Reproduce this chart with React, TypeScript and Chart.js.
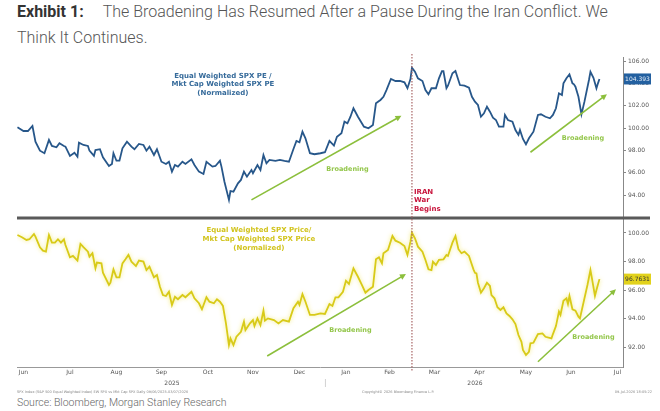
import { useEffect, useRef } from "react"
import { Chart, registerables } from "chart.js"

Chart.register(...registerables)

// x values are days counted from 1 Jun 2025
const peDays = [9, 13, 16, 19, 21, 24, 27, 30, 32, 35, 37, 40, 41, 44, 47, 49, 50, 53, 56, 57, 60, 61, 64, 66, 70, 72, 73, 75, 77, 79, 82, 85, 87, 90, 93, 95, 97, 100, 102, 105, 108, 110, 112, 114, 116, 119, 121, 125, 127, 130, 133, 135, 139, 141, 144, 145, 147, 150, 151, 153, 156, 158, 160, 162, 165, 166, 169, 171, 173, 175, 177, 181, 184, 187, 190, 193, 195, 197, 199, 201, 204, 207, 211, 214, 217, 220, 222, 225, 227, 229, 231, 233, 236, 240, 243, 246, 248, 251, 253, 255, 258, 261, 264, 267, 269, 271, 272, 274, 276, 279, 281, 283, 285, 288, 290, 292, 293, 295, 296, 299, 301, 304, 307, 310, 312, 314, 316, 318, 320, 322, 324, 326, 328, 330, 333, 334, 336, 339, 341, 343, 344, 346, 348, 350, 353, 356, 358, 361, 364, 366, 368, 370, 372, 373, 375, 377, 379, 380, 381, 383, 385, 387, 390, 391, 393, 395, 396, 397]
const peValues = [100.06, 99.73, 99.73, 100.18, 98.78, 97.97, 97.74, 98.93, 98.39, 98.27, 98.63, 98.39, 98.33, 97.5, 97.79, 97.43, 98.69, 98.48, 98.39, 97.97, 97.5, 98.03, 98.1, 97.38, 96.6, 96.78, 97.74, 97.07, 97.07, 98.18, 98.78, 98.33, 98.1, 98.57, 98.48, 97.97, 98.33, 97.58, 98.1, 96.98, 96.78, 96.98, 96.09, 96.69, 96.54, 96.98, 96.78, 97.2, 96.69, 96.09, 95.88, 96.98, 96.54, 96.6, 97.07, 96.54, 95.19, 93.56, 94.36, 94.3, 95.05, 95.35, 96.09, 95.64, 96.24, 95.95, 96.69, 96.24, 97.58, 96.84, 97.14, 97.05, 97.14, 97.05, 96.98, 98.12, 98.84, 98.72, 99.67, 99.08, 97.74, 97.65, 97.74, 97.83, 98.84, 98.42, 99.22, 99.53, 100.57, 100.42, 101.01, 101.77, 101.01, 100.12, 99.97, 100.27, 102.21, 102.51, 102.8, 103.4, 104.39, 104.21, 104.21, 104.09, 103.56, 104.39, 105.4, 105.04, 104.45, 104.21, 103.4, 103.02, 103.56, 103.56, 104.45, 105.1, 105.1, 103.56, 103.79, 104.9, 105.1, 103.85, 103.79, 103.61, 102.8, 102.36, 102.06, 101.01, 101.32, 101.91, 101.46, 100.92, 100.72, 100.12, 100.12, 101.17, 100.72, 100.57, 99.82, 99.38, 99.82, 99.02, 98.54, 99.08, 99.67, 101.17, 101.23, 101.01, 100.87, 101.17, 101.77, 103.11, 102.96, 104.0, 104.45, 104.81, 104.0, 103.91, 103.7, 102.8, 101.23, 102.36, 104.3, 105.04, 104.5, 103.56, 104.0, 104.393]

const priceDays = [9, 12, 15, 17, 20, 21, 24, 26, 28, 30, 32, 34, 36, 38, 40, 41, 44, 46, 49, 51, 53, 56, 57, 59, 61, 62, 65, 66, 70, 71, 73, 75, 77, 79, 81, 83, 85, 88, 90, 93, 95, 97, 100, 102, 104, 106, 108, 110, 112, 114, 116, 119, 121, 125, 127, 130, 132, 135, 137, 140, 142, 144, 146, 148, 150, 151, 153, 155, 158, 160, 161, 164, 166, 167, 169, 171, 173, 174, 176, 180, 183, 186, 190, 193, 196, 197, 199, 201, 204, 207, 211, 214, 217, 219, 221, 223, 226, 228, 230, 233, 236, 239, 241, 243, 246, 248, 250, 252, 253, 256, 259, 261, 264, 267, 269, 271, 272, 274, 276, 279, 281, 283, 285, 286, 288, 290, 293, 295, 296, 299, 301, 303, 305, 307, 310, 313, 314, 315, 316, 318, 320, 322, 324, 325, 327, 329, 331, 333, 335, 337, 339, 341, 343, 345, 346, 348, 350, 351, 353, 356, 359, 361, 365, 366, 368, 370, 371, 373, 375, 376, 377, 379, 381, 383, 384, 386, 389, 391, 392, 394, 395, 397]
const priceValues = [99.86, 99.7, 99.51, 99.56, 99.93, 99.74, 99.0, 98.76, 98.69, 99.86, 99.32, 99.32, 99.56, 99.32, 99.56, 99.16, 98.29, 98.39, 98.06, 99.23, 99.0, 98.69, 98.34, 98.58, 97.52, 97.92, 97.87, 97.21, 96.35, 96.51, 97.45, 96.89, 96.89, 97.87, 98.15, 98.46, 97.99, 97.68, 98.06, 97.99, 97.4, 97.64, 96.89, 97.05, 96.23, 95.65, 95.58, 95.88, 94.95, 95.53, 95.35, 95.65, 95.49, 95.88, 95.42, 95.07, 94.65, 95.49, 95.18, 95.07, 95.35, 95.18, 94.88, 93.66, 92.14, 92.61, 92.14, 92.72, 93.07, 93.78, 93.19, 93.66, 93.89, 93.47, 94.01, 93.54, 94.55, 93.85, 94.01, 93.89, 93.66, 93.89, 93.78, 94.72, 95.18, 94.95, 95.72, 95.18, 94.25, 94.25, 94.36, 94.32, 95.02, 94.88, 95.49, 95.49, 95.88, 96.65, 96.42, 97.52, 96.93, 96.28, 95.81, 96.0, 96.23, 98.15, 98.29, 97.87, 98.58, 98.81, 99.79, 99.46, 99.32, 99.09, 98.46, 99.39, 100.02, 99.63, 99.04, 98.69, 98.11, 97.45, 97.4, 97.99, 97.75, 98.11, 98.15, 98.46, 98.39, 99.32, 99.79, 98.86, 98.58, 98.69, 98.39, 97.45, 97.21, 97.17, 96.51, 95.81, 96.12, 96.51, 96.28, 95.65, 95.42, 94.79, 94.6, 94.79, 94.36, 94.18, 93.94, 93.61, 92.84, 92.37, 91.79, 91.44, 91.67, 92.26, 92.3, 92.91, 92.96, 92.72, 92.61, 92.91, 93.47, 94.48, 94.25, 95.25, 95.42, 95.02, 95.58, 94.65, 94.55, 94.13, 94.01, 94.95, 96.35, 97.4, 96.82, 95.58, 96.0, 96.7631]

const monthLabels = ["Jun", "Jul", "Aug", "Sep", "Oct", "Nov", "Dec", "Jan", "Feb", "Mar", "Apr", "May", "Jun", "Jul"]
const monthTickDays = [13, 44, 75, 105, 136, 166, 197, 228, 257, 287, 317, 348, 378, 409]
const yearLabels = ["2025", "2026"]
const yearLabelDays = [112, 314]
const yearBreakDay = 214
const peTicks = [94, 96, 98, 100, 102, 104, 106]
const priceTicks = [92, 94, 96, 98, 100]
const iranDay = 272

const peLabel = ["Equal Weighted SPX PE /", "Mkt Cap Weighted SPX PE", "(Normalized)"]
const priceLabel = ["Equal Weighted SPX Price/", "Mkt Cap Weighted SPX Price", "(Normalized)"]
const iranLabel = ["IRAN", "War", "Begins"]

// trend arrows: [day, value] start and end, per panel
const arrows = [
  { axis: "yTop", from: [165, 93.56], to: [265, 101.1], text: [229, 96.33] },
  { axis: "yTop", from: [351, 97.83], to: [402, 103.02], text: [386, 99.11] },
  { axis: "yBottom", from: [175.5, 91.37], to: [268, 97.12], text: [231, 93.19] },
  { axis: "yBottom", from: [356, 90.97], to: [408, 96.05], text: [393, 92.7] },
]

const BLUE = "#27578a"
const YELLOW = "#d8ca18"
const GREEN = "#8cbf3c"
const FONT = "'DejaVu Sans', Verdana, sans-serif"

const decorPlugin = {
  id: "decor",
  beforeDatasetDraw(chart: any, args: any) {
    if (args.index === 1) {
      const c = chart.ctx
      c.save()
      c.shadowColor = "rgba(240, 230, 90, 0.8)"
      c.shadowBlur = 4
    }
  },
  afterDatasetDraw(chart: any, args: any) {
    if (args.index === 1) chart.ctx.restore()
  },
  afterDraw(chart: any) {
    const { ctx, chartArea: area, scales } = chart
    const x = scales.x
    const yt = scales.yTop
    const yb = scales.yBottom

    const text = (s: string, px: number, py: number, color: string, font: string, align: CanvasTextAlign = "center") => {
      ctx.fillStyle = color
      ctx.font = font
      ctx.textAlign = align
      ctx.textBaseline = "middle"
      ctx.fillText(s, px, py)
    }

    ctx.save()

    // panel divider
    ctx.fillStyle = "#5a5a5a"
    ctx.fillRect(area.left, yt.bottom - 1.5, 650 - area.left, 3)

    // Iran war line
    const ix = x.getPixelForValue(iranDay)
    ctx.strokeStyle = "#a86565"
    ctx.lineWidth = 1.2
    ctx.setLineDash([1.5, 1.5])
    ctx.beginPath()
    ctx.moveTo(ix, area.top - 3)
    ctx.lineTo(ix, area.bottom + 4)
    ctx.stroke()
    ctx.setLineDash([])
    iranLabel.forEach((s, i) => text(s, ix + 2, yt.getPixelForValue(94.27) + i * 8.5, "#c8143c", `bold 7px ${FONT}`, "left"))

    // series labels
    peLabel.forEach((s, i) =>
      text(s, x.getPixelForValue(146), yt.getPixelForValue(104.66) + i * 8.5, "#356a9a", `bold 7px ${FONT}`)
    )
    priceLabel.forEach((s, i) =>
      text(s, x.getPixelForValue(170), yb.getPixelForValue(100.21) + i * 9, "#d2c41e", `bold 7px ${FONT}`)
    )

    // broadening arrows
    arrows.forEach((a) => {
      const ys = scales[a.axis]
      const x1 = x.getPixelForValue(a.from[0])
      const y1 = ys.getPixelForValue(a.from[1])
      const x2 = x.getPixelForValue(a.to[0])
      const y2 = ys.getPixelForValue(a.to[1])
      const ang = Math.atan2(y2 - y1, x2 - x1)
      ctx.strokeStyle = GREEN
      ctx.fillStyle = GREEN
      ctx.lineWidth = 1.6
      ctx.beginPath()
      ctx.moveTo(x1, y1)
      ctx.lineTo(x2 - 4 * Math.cos(ang), y2 - 4 * Math.sin(ang))
      ctx.stroke()
      ctx.beginPath()
      ctx.moveTo(x2, y2)
      ctx.lineTo(x2 - 6 * Math.cos(ang) + 3 * Math.sin(ang), y2 - 6 * Math.sin(ang) - 3 * Math.cos(ang))
      ctx.lineTo(x2 - 6 * Math.cos(ang) - 3 * Math.sin(ang), y2 - 6 * Math.sin(ang) + 3 * Math.cos(ang))
      ctx.closePath()
      ctx.fill()
      text("Broadening", x.getPixelForValue(a.text[0]), ys.getPixelForValue(a.text[1]), "#93c64a", `bold 6.5px ${FONT}`)
    })

    // last value boxes
    const box = (v: number, ys: any, bg: string, fg: string, label: string) => {
      const py = ys.getPixelForValue(v)
      ctx.fillStyle = bg
      ctx.fillRect(area.right + 1, py - 5.5, 27, 11)
      text(label, area.right + 14.5, py + 0.5, fg, `6px ${FONT}`)
    }
    box(peValues[peValues.length - 1], yt, "#2360a0", "#e6eef8", "104.393")
    box(priceValues[priceValues.length - 1], yb, "#e2d21c", "#333", "96.7631")

    // years and footer
    yearLabels.forEach((s, i) => text(s, x.getPixelForValue(yearLabelDays[i]), area.bottom + 16, "#555", `6px ${FONT}`))
    const bx = x.getPixelForValue(yearBreakDay)
    ctx.fillStyle = "#c8c8c8"
    ctx.fillRect(bx, area.bottom + 12, 0.8, 8)
    text("SPX Index (S&P 500 Equal Weighted Index) EW SPX vs Mkt Cap SPX Daily 09/06/2025-03/07/2026", area.left, area.bottom + 25, "#888", `3.5px ${FONT}`, "left")
    text("Copyright\u00a9 2026 Bloomberg Finance L.P.", 398, area.bottom + 25, "#888", `3.5px ${FONT}`)
    text("09-Jul-2026 18:05:22", 652, area.bottom + 25, "#888", `3.5px ${FONT}`, "right")

    ctx.restore()
  },
}

const yAxis = (ticks: number[], min: number, max: number, weight: number) => ({
  type: "linear" as const,
  position: "right" as const,
  stack: "panels",
  stackWeight: weight,
  min,
  max,
  afterBuildTicks: (s: any) => {
    s.ticks = ticks.map((v) => ({ value: v }))
  },
  afterFit: (s: any) => {
    s.width = 37
  },
  grid: { drawOnChartArea: false, drawTicks: true, tickLength: 3, color: "#888" },
  border: { display: true, color: "#888", width: 1 },
  ticks: {
    padding: 2,
    color: "#555",
    font: { family: FONT, size: 6 },
    callback: (v: any) => Number(v).toFixed(2),
  },
})

export default function App() {
  const canvasRef = useRef<HTMLCanvasElement>(null)

  useEffect(() => {
    document.body.style.margin = "0"
    if (!canvasRef.current) return

    const chart = new Chart(canvasRef.current, {
      type: "line",
      data: {
        datasets: [
          {
            label: "Equal Weighted SPX PE / Mkt Cap Weighted SPX PE",
            data: peDays.map((d, i) => ({ x: d, y: peValues[i] })),
            yAxisID: "yTop",
            borderColor: BLUE,
            borderWidth: 1.8,
            pointRadius: 0,
            tension: 0,
          },
          {
            label: "Equal Weighted SPX Price / Mkt Cap Weighted SPX Price",
            data: priceDays.map((d, i) => ({ x: d, y: priceValues[i] })),
            yAxisID: "yBottom",
            borderColor: YELLOW,
            borderWidth: 1.8,
            pointRadius: 0,
            tension: 0,
          },
        ],
      },
      options: {
        responsive: true,
        maintainAspectRatio: false,
        animation: false,
        layout: { padding: { left: 17, top: 7, right: 0, bottom: 10 } },
        plugins: { legend: { display: false }, tooltip: { enabled: false } },
        scales: {
          x: {
            type: "linear",
            min: 8.7,
            max: 412.7,
            afterBuildTicks: (s: any) => {
              s.ticks = monthTickDays.map((v) => ({ value: v }))
            },
            afterFit: (s: any) => {
              s.height = 18
            },
            grid: { display: false, drawTicks: false },
            border: { display: true, color: "#999" },
            ticks: {
              padding: 2,
              maxRotation: 0,
              autoSkip: false,
              color: "#555",
              font: { family: FONT, size: 6 },
              callback: (_v: any, i: number) => monthLabels[i],
            },
          },
          yTop: yAxis(peTicks, 91.94, 106.36, 161),
          yBottom: yAxis(priceTicks, 90.6, 101.05, 149),
        },
      },
      plugins: [decorPlugin],
    })

    return () => chart.destroy()
  }, [])

  return (
    <div style={{ position: "relative", width: 660, height: 411, background: "#fff", overflow: "hidden", fontFamily: "Roboto, sans-serif" }}>
      <div style={{ position: "absolute", left: 17, top: -1, fontSize: 16, lineHeight: "26px", color: "#555", fontWeight: 300, whiteSpace: "nowrap" }}>
        <span style={{ fontWeight: 700, color: "#333" }}>Exhibit 1:</span>
        <span style={{ display: "inline-block", width: 19 }} />
        The Broadening Has Resumed After a Pause During the Iran Conflict. We
        <br />
        Think It Continues.
      </div>
      <div style={{ position: "absolute", left: 0, top: 50, width: 660, height: 345 }}>
        <canvas ref={canvasRef} />
      </div>
      <div style={{ position: "absolute", left: 17, top: 396, fontSize: 10.5, lineHeight: "14px", color: "#666", fontWeight: 300 }}>
        Source: Bloomberg, Morgan Stanley Research
      </div>
    </div>
  )
}
